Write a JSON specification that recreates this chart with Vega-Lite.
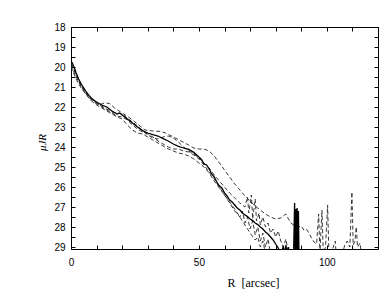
{
  "$schema": "https://vega.github.io/schema/vega-lite/v6.json",
  "autosize": "none",
  "width": 307,
  "height": 222,
  "padding": {"left": 71, "top": 27, "right": 10, "bottom": 51},
  "background": "white",
  "config": {
    "view": {"stroke": null},
    "axis": {"domainColor": "black", "domainWidth": 1, "tickColor": "black", "tickWidth": 1, "labelColor": "black", "grid": false, "labelFont": "Liberation Sans", "labelFontSize": 10, "titleColor": "black"}
  },
  "datasets": {
    "mean": [
      {"r":0,"mu":19.7},{"r":0.5,"mu":19.8},{"r":1,"mu":19.95},{"r":1.5,"mu":20.1},{"r":2,"mu":20.3},{"r":3,"mu":20.6},{"r":4,"mu":20.85},{"r":5,"mu":21.05},{"r":6,"mu":21.25},{"r":7,"mu":21.42},{"r":8,"mu":21.56},{"r":9,"mu":21.66},{"r":10,"mu":21.75},{"r":12,"mu":21.9},{"r":14,"mu":22.0},{"r":16,"mu":22.2},{"r":18,"mu":22.35},{"r":19,"mu":22.3},{"r":20,"mu":22.4},{"r":22,"mu":22.6},{"r":24,"mu":22.8},{"r":26,"mu":23.0},{"r":28,"mu":23.18},{"r":30,"mu":23.3},{"r":32,"mu":23.38},{"r":34,"mu":23.45},{"r":36,"mu":23.58},{"r":38,"mu":23.7},{"r":40,"mu":23.85},{"r":42,"mu":23.97},{"r":44,"mu":24.05},{"r":46,"mu":24.12},{"r":48,"mu":24.27},{"r":50,"mu":24.5},{"r":51,"mu":24.62},{"r":52,"mu":24.85},{"r":53,"mu":24.9},{"r":54,"mu":25.1},{"r":55,"mu":25.35},{"r":56,"mu":25.5},{"r":57,"mu":25.75},{"r":58,"mu":25.95},{"r":59,"mu":26.05},{"r":60,"mu":26.3},{"r":61,"mu":26.45},{"r":62,"mu":26.65},{"r":63,"mu":26.75},{"r":64,"mu":26.9},{"r":65,"mu":27.05},{"r":66,"mu":27.15},{"r":67,"mu":27.3},{"r":68,"mu":27.4},{"r":69,"mu":27.48},{"r":70,"mu":27.6},{"r":71,"mu":27.68},{"r":72,"mu":27.8},{"r":73,"mu":27.88},{"r":74,"mu":28.0},{"r":75,"mu":28.1},{"r":76,"mu":28.25},{"r":77,"mu":28.35},{"r":78,"mu":28.5},{"r":79,"mu":28.65},{"r":80,"mu":28.85},{"r":81,"mu":29.05},{"r":82,"mu":29.4},{"r":83,"mu":28.95},{"r":83.5,"mu":29.4},{"r":84,"mu":28.9},{"r":84.5,"mu":29.4},{"r":85,"mu":29.0},{"r":85.5,"mu":29.4},{"r":87,"mu":29.4},{"r":87.4,"mu":26.8},{"r":87.6,"mu":29.3},{"r":87.9,"mu":27.1},{"r":88.1,"mu":29.3},{"r":88.4,"mu":27.05},{"r":88.6,"mu":29.3},{"r":88.9,"mu":27.2},{"r":89.1,"mu":29.4}
    ],
    "profiles": [
      {"s":"p1","r":0,"mu":19.8},{"s":"p1","r":1,"mu":20.05},{"s":"p1","r":2,"mu":20.35},{"s":"p1","r":3,"mu":20.65},{"s":"p1","r":4,"mu":20.9},{"s":"p1","r":6,"mu":21.3},{"s":"p1","r":8,"mu":21.6},{"s":"p1","r":10,"mu":21.8},{"s":"p1","r":12,"mu":21.85},{"s":"p1","r":13,"mu":21.8},{"s":"p1","r":15,"mu":21.82},{"s":"p1","r":17,"mu":22.05},{"s":"p1","r":20,"mu":22.3},{"s":"p1","r":23,"mu":22.55},{"s":"p1","r":26,"mu":22.85},{"s":"p1","r":29,"mu":23.15},{"s":"p1","r":32,"mu":23.2},{"s":"p1","r":35,"mu":23.22},{"s":"p1","r":37,"mu":23.3},{"s":"p1","r":40,"mu":23.5},{"s":"p1","r":43,"mu":23.7},{"s":"p1","r":46,"mu":23.9},{"s":"p1","r":48,"mu":24.05},{"s":"p1","r":50,"mu":24.1},{"s":"p1","r":52,"mu":24.1},{"s":"p1","r":54,"mu":24.2},{"s":"p1","r":56,"mu":24.45},{"s":"p1","r":58,"mu":24.8},{"s":"p1","r":60,"mu":25.15},{"s":"p1","r":62,"mu":25.5},{"s":"p1","r":64,"mu":25.85},{"s":"p1","r":66,"mu":26.15},{"s":"p1","r":68,"mu":26.45},{"s":"p1","r":70,"mu":26.7},{"s":"p1","r":72,"mu":26.95},{"s":"p1","r":74,"mu":27.15},{"s":"p1","r":76,"mu":27.35},{"s":"p1","r":78,"mu":27.5},{"s":"p1","r":80,"mu":27.6},{"s":"p1","r":82,"mu":27.55},{"s":"p1","r":84,"mu":27.35},{"s":"p1","r":85,"mu":27.6},{"s":"p1","r":86,"mu":27.8},{"s":"p1","r":87,"mu":27.9},{"s":"p1","r":89,"mu":28.0},{"s":"p1","r":90,"mu":27.95},{"s":"p1","r":91,"mu":28.15},{"s":"p1","r":92,"mu":28.1},{"s":"p1","r":93,"mu":28.3},{"s":"p1","r":94,"mu":28.55},{"s":"p1","r":95,"mu":28.75},{"s":"p1","r":96,"mu":28.85},{"s":"p1","r":96.8,"mu":27.35},{"s":"p1","r":97.3,"mu":29.3},{"s":"p1","r":98.1,"mu":27.15},{"s":"p1","r":98.6,"mu":29.3},{"s":"p1","r":99.5,"mu":29.0},{"s":"p1","r":100.3,"mu":26.9},{"s":"p1","r":100.8,"mu":29.3},{"s":"p1","r":101.5,"mu":29.4},{"s":"p1","r":103.3,"mu":28.7},{"s":"p1","r":103.6,"mu":29.3},{"s":"p1","r":106,"mu":29.4},{"s":"p1","r":107,"mu":28.9},{"s":"p1","r":108,"mu":28.7},{"s":"p1","r":109,"mu":29.0},{"s":"p1","r":109.8,"mu":26.25},{"s":"p1","r":110.3,"mu":28.9},{"s":"p1","r":111,"mu":28.7},{"s":"p1","r":111.5,"mu":28.0},{"s":"p1","r":112,"mu":29.0},{"s":"p1","r":113,"mu":28.8},{"s":"p1","r":113.5,"mu":29.4},
      {"s":"p2","r":0,"mu":20.0},{"s":"p2","r":1,"mu":20.3},{"s":"p2","r":2,"mu":20.6},{"s":"p2","r":3,"mu":20.85},{"s":"p2","r":4,"mu":21.05},{"s":"p2","r":6,"mu":21.4},{"s":"p2","r":8,"mu":21.7},{"s":"p2","r":10,"mu":21.9},{"s":"p2","r":12,"mu":22.05},{"s":"p2","r":14,"mu":22.2},{"s":"p2","r":16,"mu":22.35},{"s":"p2","r":18,"mu":22.5},{"s":"p2","r":20,"mu":22.6},{"s":"p2","r":22,"mu":22.9},{"s":"p2","r":24,"mu":23.15},{"s":"p2","r":26,"mu":23.3},{"s":"p2","r":28,"mu":23.35},{"s":"p2","r":30,"mu":23.5},{"s":"p2","r":32,"mu":23.65},{"s":"p2","r":34,"mu":23.8},{"s":"p2","r":36,"mu":23.95},{"s":"p2","r":38,"mu":24.1},{"s":"p2","r":40,"mu":24.2},{"s":"p2","r":42,"mu":24.3},{"s":"p2","r":44,"mu":24.35},{"s":"p2","r":46,"mu":24.45},{"s":"p2","r":48,"mu":24.6},{"s":"p2","r":50,"mu":24.8},{"s":"p2","r":52,"mu":25.0},{"s":"p2","r":54,"mu":25.3},{"s":"p2","r":56,"mu":25.7},{"s":"p2","r":58,"mu":26.05},{"s":"p2","r":60,"mu":26.4},{"s":"p2","r":62,"mu":26.75},{"s":"p2","r":64,"mu":27.1},{"s":"p2","r":66,"mu":27.5},{"s":"p2","r":68,"mu":27.9},{"s":"p2","r":70,"mu":28.3},{"s":"p2","r":72,"mu":28.65},{"s":"p2","r":73,"mu":28.5},{"s":"p2","r":74,"mu":29.0},{"s":"p2","r":75,"mu":28.7},{"s":"p2","r":76,"mu":29.3},
      {"s":"p3","r":0,"mu":19.85},{"s":"p3","r":1,"mu":20.1},{"s":"p3","r":2,"mu":20.4},{"s":"p3","r":4,"mu":20.95},{"s":"p3","r":6,"mu":21.35},{"s":"p3","r":8,"mu":21.65},{"s":"p3","r":10,"mu":21.85},{"s":"p3","r":12,"mu":21.95},{"s":"p3","r":14,"mu":22.1},{"s":"p3","r":16,"mu":22.25},{"s":"p3","r":18,"mu":22.3},{"s":"p3","r":20,"mu":22.35},{"s":"p3","r":22,"mu":22.55},{"s":"p3","r":24,"mu":22.75},{"s":"p3","r":26,"mu":22.95},{"s":"p3","r":28,"mu":23.2},{"s":"p3","r":30,"mu":23.4},{"s":"p3","r":32,"mu":23.55},{"s":"p3","r":34,"mu":23.6},{"s":"p3","r":36,"mu":23.5},{"s":"p3","r":38,"mu":23.45},{"s":"p3","r":40,"mu":23.55},{"s":"p3","r":42,"mu":23.75},{"s":"p3","r":44,"mu":24.0},{"s":"p3","r":46,"mu":24.2},{"s":"p3","r":48,"mu":24.35},{"s":"p3","r":50,"mu":24.55},{"s":"p3","r":52,"mu":24.8},{"s":"p3","r":54,"mu":25.05},{"s":"p3","r":56,"mu":25.4},{"s":"p3","r":58,"mu":25.7},{"s":"p3","r":60,"mu":26.0},{"s":"p3","r":62,"mu":26.3},{"s":"p3","r":64,"mu":26.55},{"s":"p3","r":66,"mu":26.8},{"s":"p3","r":68,"mu":27.0},{"s":"p3","r":69,"mu":26.5},{"s":"p3","r":69.5,"mu":27.3},{"s":"p3","r":70.5,"mu":26.4},{"s":"p3","r":71,"mu":27.6},{"s":"p3","r":72,"mu":26.6},{"s":"p3","r":72.5,"mu":27.7},{"s":"p3","r":73.5,"mu":27.3},{"s":"p3","r":74,"mu":27.9},{"s":"p3","r":75,"mu":27.5},{"s":"p3","r":76,"mu":28.0},{"s":"p3","r":77,"mu":27.8},{"s":"p3","r":78,"mu":28.3},{"s":"p3","r":79,"mu":28.1},{"s":"p3","r":80,"mu":28.5},{"s":"p3","r":81,"mu":28.2},{"s":"p3","r":82,"mu":28.7},{"s":"p3","r":83,"mu":29.0},{"s":"p3","r":84,"mu":28.6},{"s":"p3","r":85,"mu":29.3},
      {"s":"p4","r":0,"mu":19.9},{"s":"p4","r":1,"mu":20.2},{"s":"p4","r":2,"mu":20.5},{"s":"p4","r":4,"mu":21.0},{"s":"p4","r":6,"mu":21.35},{"s":"p4","r":8,"mu":21.6},{"s":"p4","r":10,"mu":21.8},{"s":"p4","r":12,"mu":22.0},{"s":"p4","r":14,"mu":22.15},{"s":"p4","r":16,"mu":22.3},{"s":"p4","r":18,"mu":22.45},{"s":"p4","r":20,"mu":22.5},{"s":"p4","r":22,"mu":22.65},{"s":"p4","r":24,"mu":22.9},{"s":"p4","r":26,"mu":23.1},{"s":"p4","r":28,"mu":23.25},{"s":"p4","r":30,"mu":23.35},{"s":"p4","r":32,"mu":23.5},{"s":"p4","r":34,"mu":23.7},{"s":"p4","r":36,"mu":23.85},{"s":"p4","r":38,"mu":24.0},{"s":"p4","r":40,"mu":24.1},{"s":"p4","r":42,"mu":24.1},{"s":"p4","r":44,"mu":24.2},{"s":"p4","r":46,"mu":24.25},{"s":"p4","r":48,"mu":24.4},{"s":"p4","r":50,"mu":24.6},{"s":"p4","r":52,"mu":24.9},{"s":"p4","r":54,"mu":25.25},{"s":"p4","r":56,"mu":25.6},{"s":"p4","r":58,"mu":26.0},{"s":"p4","r":60,"mu":26.4},{"s":"p4","r":62,"mu":26.8},{"s":"p4","r":64,"mu":27.2},{"s":"p4","r":66,"mu":27.5},{"s":"p4","r":67,"mu":27.2},{"s":"p4","r":68,"mu":27.8},{"s":"p4","r":69,"mu":27.5},{"s":"p4","r":70,"mu":28.1},{"s":"p4","r":71,"mu":27.7},{"s":"p4","r":72,"mu":28.4},{"s":"p4","r":73,"mu":28.0},{"s":"p4","r":74,"mu":28.7},{"s":"p4","r":75,"mu":28.3},{"s":"p4","r":76,"mu":29.0},{"s":"p4","r":77,"mu":28.6},{"s":"p4","r":78,"mu":29.3}
    ]
  },
  "layer": [
    {
      "data": {"name": "profiles"},
      "mark": {"type": "line", "clip": true, "color": "#222222", "strokeWidth": 0.9, "strokeDash": [4, 2.5]},
      "encoding": {
        "x": {"field": "r", "type": "quantitative", "scale": {"domain": [0, 120], "nice": false, "zero": false},
          "axis": {"orient": "top", "title": null, "labels": false, "values": [0,10,20,30,40,50,60,70,80,90,100,110,120], "tickSize": -4}},
        "y": {"field": "mu", "type": "quantitative", "scale": {"domain": [18, 29.1], "nice": false, "zero": false, "reverse": true},
          "axis": {"orient": "right", "title": null, "labels": false, "values": [18,18.5,19,19.5,20,20.5,21,21.5,22,22.5,23,23.5,24,24.5,25,25.5,26,26.5,27,27.5,28,28.5,29], "tickSize": -4}},
        "detail": {"field": "s", "type": "nominal"}
      }
    },
    {
      "data": {"name": "mean"},
      "mark": {"type": "line", "clip": true, "color": "black", "strokeWidth": 1.3},
      "encoding": {
        "x": {"field": "r", "type": "quantitative", "scale": {"domain": [0, 120], "nice": false, "zero": false},
          "axis": {"orient": "bottom", "title": "R\u00a0\u00a0[arcsec]", "titleFont": "Liberation Serif", "titleFontSize": 12, "titleFontWeight": "normal", "titleX": 182, "titleY": 28, "titleAlign": "center", "values": [0,10,20,30,40,50,60,70,80,90,100,110,120], "labelExpr": "datum.value % 50 === 0 ? datum.label : ''", "tickSize": -4, "labelPadding": 12, "labelFlush": false}},
        "y": {"field": "mu", "type": "quantitative", "scale": {"domain": [18, 29.1], "nice": false, "zero": false, "reverse": true},
          "axis": {"orient": "left", "title": "μJR", "titleFont": "Liberation Serif", "titleFontSize": 11, "titleFontStyle": "italic", "titleFontWeight": "normal", "titleX": -24, "titleY": 115, "titleAngle": -90, "values": [18,18.5,19,19.5,20,20.5,21,21.5,22,22.5,23,23.5,24,24.5,25,25.5,26,26.5,27,27.5,28,28.5,29], "labelExpr": "datum.value % 1 === 0 ? format(datum.value, 'd') : ''", "tickSize": -4, "labelPadding": 10}}
      }
    }
  ],
  "resolve": {"axis": {"x": "independent", "y": "independent"}}
}
